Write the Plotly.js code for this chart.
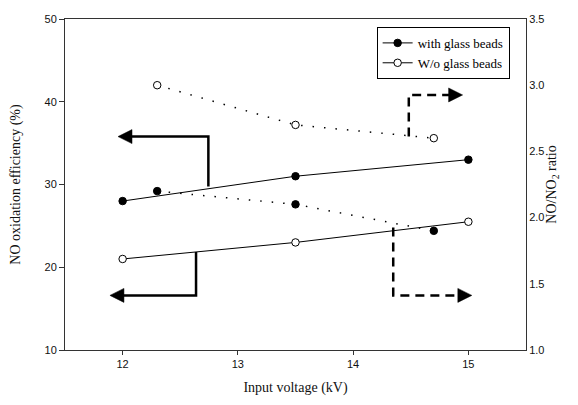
<!DOCTYPE html>
<html>
<head>
<meta charset="utf-8">
<script src="https://cdn.plot.ly/plotly-3.0.1.min.js"></script>
<style>html,body{margin:0;padding:0;background:#fff;}#chart{width:578px;height:405px;}</style>
</head>
<body>
<div id="chart"></div>
<script>
// Data
var voltage = [12, 13.5, 15];
var effWith = [28, 31, 33];
var effWithout = [21, 23, 25.5];
var ratioVoltage = [12.3, 13.5, 14.7];
var ratioWith = [2.2, 2.1, 1.9];
var ratioWithout = [3.0, 2.7, 2.6];
var xTicks = [12, 13, 14, 15];
var yTicks = [10, 20, 30, 40, 50];
var y2Ticks = [1.0, 1.5, 2.0, 2.5, 3.0, 3.5];

var traces = [
  {x: voltage, y: effWith, name: 'with glass beads', mode: 'lines+markers', type: 'scatter',
   line: {color: '#000', width: 1}, marker: {symbol: 'circle', size: 7.5, color: '#000', line: {color: '#000', width: 1}}},
  {x: voltage, y: effWithout, name: 'W/o glass beads', mode: 'lines+markers', type: 'scatter',
   line: {color: '#000', width: 1}, marker: {symbol: 'circle', size: 7.5, color: '#fff', line: {color: '#000', width: 1}}},
  {x: ratioVoltage, y: ratioWith, yaxis: 'y2', mode: 'lines+markers', type: 'scatter', showlegend: false,
   line: {color: '#000', width: 1.5, dash: '1.5px,10px'}, marker: {symbol: 'circle', size: 7.5, color: '#000', line: {color: '#000', width: 1}}},
  {x: ratioVoltage, y: ratioWithout, yaxis: 'y2', mode: 'lines+markers', type: 'scatter', showlegend: false,
   line: {color: '#000', width: 1.5, dash: '1.5px,10px'}, marker: {symbol: 'circle', size: 7.5, color: '#fff', line: {color: '#000', width: 1}}}
];

// arrow polylines (data coords on x / left y)
function pathOf(pts){ return pts.map(function(p,i){return (i?'L':'M')+p[0]+','+p[1];}).join(' '); }
var arrows = [
  {pts: [[12.744, 29.76], [12.744, 35.79], [12.05, 35.79]], tip: [11.96, 35.79], dir: 1, dash: 'solid'},
  {pts: [[12.637, 21.85], [12.637, 16.6], [11.98, 16.6]], tip: [11.89, 16.6], dir: 1, dash: 'solid'},
  {pts: [[14.348, 24.8], [14.348, 16.6], [14.93, 16.6]], tip: [15.03, 16.6], dir: -1, dash: '9px,6px'},
  {pts: [[14.483, 35.79], [14.483, 40.82], [14.85, 40.82]], tip: [14.95, 40.82], dir: -1, dash: '9px,6px'}
];
var shapes = [];
arrows.forEach(function(a){
  shapes.push({type: 'path', xref: 'x', yref: 'y', path: pathOf(a.pts), line: {color: '#000', width: 2.5, dash: a.dash}});
  var d = a.dir * 14;
  shapes.push({type: 'path', xref: 'x', yref: 'y', xsizemode: 'pixel', ysizemode: 'pixel',
               xanchor: a.tip[0], yanchor: a.tip[1],
               path: 'M0,0 L' + d + ',7 L' + d + ',-7 Z',
               fillcolor: '#000', line: {color: '#000', width: 0.5}});
});

var tickFont = {family: 'Liberation Sans, Arial, sans-serif', size: 11, color: '#111'};
var titleFont = {family: 'Liberation Serif, Times New Roman, serif', size: 14, color: '#111'};

var layout = {
  width: 578, height: 405,
  margin: {l: 65, r: 52, t: 19, b: 54.5, pad: 0},
  paper_bgcolor: '#fff', plot_bgcolor: '#fff',
  showlegend: true,
  legend: {x: 0.676, y: 0.976, xanchor: 'left', yanchor: 'top', bgcolor: '#fff',
           bordercolor: '#000', borderwidth: 1, font: {family: 'Liberation Serif, Times New Roman, serif', size: 13, color: '#000'},
           tracegroupgap: 0},
  xaxis: {range: [11.5, 15.5], tickvals: xTicks, ticktext: xTicks.map(String), showgrid: false, zeroline: false,
          showline: true, linecolor: '#333', linewidth: 1, mirror: true, ticks: 'outside', ticklen: 4, tickcolor: '#333',
          tickfont: tickFont, title: {text: 'Input voltage (kV)', font: titleFont, standoff: 12}},
  yaxis: {range: [10, 50], tickvals: yTicks, ticktext: yTicks.map(String), showgrid: false, zeroline: false,
          showline: true, linecolor: '#333', linewidth: 1, ticks: 'outside', ticklen: 5, tickcolor: '#333',
          tickfont: tickFont, title: {text: 'NO oxidation efficiency (%)', font: titleFont, standoff: 20}},
  yaxis2: {range: [1.0, 3.5], tickvals: y2Ticks, ticktext: y2Ticks.map(function(v){return v.toFixed(1);}),
           overlaying: 'y', side: 'right', showgrid: false, zeroline: false,
           showline: true, linecolor: '#333', linewidth: 1, ticks: '',
           tickfont: tickFont, title: {text: 'NO/NO<sub>2</sub> ratio', font: titleFont, standoff: 0}}
};
layout.shapes = shapes;

Plotly.newPlot('chart', traces, layout, {displayModeBar: false, staticPlot: true});
</script>
</body>
</html>
